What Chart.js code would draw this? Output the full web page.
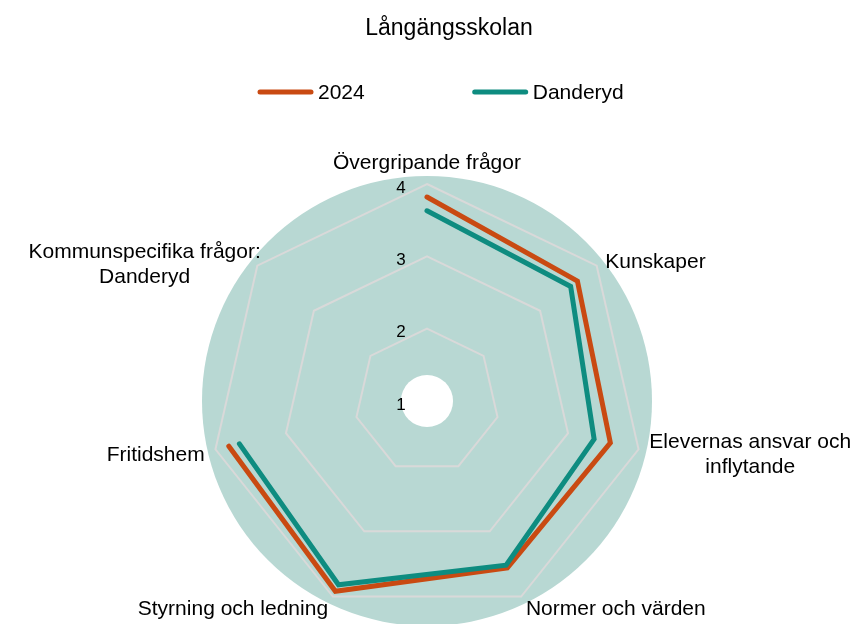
<!DOCTYPE html>
<html lang="sv">
<head>
<meta charset="utf-8">
<title>Långängsskolan</title>
<script src="https://cdn.jsdelivr.net/npm/chart.js@4.4.1/dist/chart.umd.min.js"></script>
<style>
  html, body { margin: 0; padding: 0; background: #fff; }
  #wrap { width: 857px; height: 624px; }
</style>
</head>
<body>
<div id="wrap"><canvas id="myChart"></canvas></div>
<script>
const chartTitle = "Långängsskolan";
const categories = [
  "Övergripande frågor",
  "Kunskaper",
  ["Elevernas ansvar och", "inflytande"],
  "Normer och värden",
  "Styrning och ledning",
  "Fritidshem",
  ["Kommunspecifika frågor:", "Danderyd"],
];
const seriesNames = ["2024", "Danderyd"];
const values2024 = [3.82, 3.66, 3.60, 3.56, 3.92, 3.81, null];
const valuesDanderyd = [3.63, 3.54, 3.37, 3.52, 3.82, 3.66, null];
const tickValues = [1, 2, 3, 4];

const fontFamily = "'Liberation Sans', Arial, sans-serif";
const orange = "#C94A12";
const teal = "#0E8C80";

// teal disc behind the web + the white hole in the middle
const backdropPlugin = {
  id: "backdrop",
  beforeDraw(chart) {
    const r = chart.scales.r;
    const ctx = chart.ctx;
    ctx.save();
    ctx.fillStyle = "#B8D8D3";
    ctx.beginPath();
    ctx.arc(r.xCenter, r.yCenter, r.drawingArea + 8, 0, Math.PI * 2);
    ctx.fill();
    ctx.fillStyle = "#fff";
    ctx.beginPath();
    ctx.arc(r.xCenter, r.yCenter, r.drawingArea * 0.12, 0, Math.PI * 2);
    ctx.fill();
    ctx.restore();
  },
};

// excel style labels: tick numbers left of the top spoke, category text centred in its block
const labelsPlugin = {
  id: "excelLabels",
  afterDraw(chart) {
    const r = chart.scales.r;
    const ctx = chart.ctx;
    ctx.save();
    ctx.fillStyle = "#000";

    ctx.font = "17px " + fontFamily;
    ctx.textAlign = "center";
    ctx.textBaseline = "middle";
    r.ticks.forEach((tick) => {
      let y = r.yCenter - r.getDistanceFromCenterForValue(tick.value);
      ctx.fillText(String(tick.value), r.xCenter - 26, y + 4);
    });

    ctx.font = "21px " + fontFamily;
    const lineHeight = 25;
    chart.data.labels.forEach((label, i) => {
      let lines = Array.isArray(label) ? label : [label];
      let angle = r.getIndexAngle(i);
      let pos = r.getPointPosition(i, r.drawingArea + 11);
      let widths = lines.map((l) => ctx.measureText(l).width);
      let blockW = Math.max(...widths);
      let blockH = lines.length * lineHeight;
      let sin = Math.sin(angle);
      let cx;
      let cy = pos.y + 3;
      if (Math.abs(sin) < 0.05) {
        cx = pos.x;
        cy -= blockH / 2;
      } else if (sin > 0) {
        cx = pos.x + blockW / 2;
      } else {
        cx = pos.x - blockW / 2;
        if (lines.length > 1) {
          cx += 12;
          cy += 3;
        }
      }
      lines.forEach((l, k) => {
        ctx.fillText(l, cx, cy - blockH / 2 + lineHeight * (k + 0.5));
      });
    });
    ctx.restore();
  },
};

const legendPlugin = {
  id: "lineLegend",
  afterDraw(chart) {
    const ctx = chart.ctx;
    ctx.save();
    ctx.font = "21px " + fontFamily;
    ctx.textBaseline = "middle";
    ctx.textAlign = "left";
    let x = 260;
    let y = 92;
    chart.data.datasets.forEach((ds) => {
      ctx.strokeStyle = ds.borderColor;
      ctx.lineWidth = ds.borderWidth;
      ctx.lineCap = "round";
      ctx.beginPath();
      ctx.moveTo(x, y);
      ctx.lineTo(x + 51, y);
      ctx.stroke();
      ctx.fillStyle = "#000";
      ctx.fillText(ds.label, x + 58, y + 1);
      x += 58 + ctx.measureText(ds.label).width + 110;
    });
    ctx.restore();
  },
};

const ctx = document.getElementById("myChart");
const chart = new Chart(ctx, {
  type: "radar",
  data: {
    labels: categories,
    datasets: [
      {
        label: seriesNames[0],
        data: values2024,
        borderColor: orange,
        backgroundColor: orange,
        borderWidth: 5,
        borderCapStyle: "round",
        pointRadius: 0,
        fill: false,
        order: 1,
      },
      {
        label: seriesNames[1],
        data: valuesDanderyd,
        borderColor: teal,
        backgroundColor: teal,
        borderWidth: 5,
        borderCapStyle: "round",
        pointRadius: 0,
        fill: false,
        order: 0,
      },
    ],
  },
  options: {
    responsive: true,
    maintainAspectRatio: false,
    animation: false,
    spanGaps: false,
    layout: {
      padding: { left: 41, right: 0, top: 0, bottom: 5 },
    },
    plugins: {
      legend: { display: false },
      tooltip: { enabled: false },
      title: {
        display: true,
        text: chartTitle,
        color: "#000",
        font: { family: fontFamily, size: 23, weight: "normal" },
        padding: { top: 15, bottom: 142 },
      },
    },
    scales: {
      r: {
        min: tickValues[0],
        max: tickValues[tickValues.length - 1],
        ticks: { display: false, stepSize: 1 },
        pointLabels: { display: false },
        angleLines: { display: false },
        grid: { color: "#D9D9D9", lineWidth: 2 },
        afterFit: (scale) => {
          scale.xCenter -= 22;
        },
      },
    },
  },
  plugins: [backdropPlugin, labelsPlugin, legendPlugin],
});
</script>
</body>
</html>
